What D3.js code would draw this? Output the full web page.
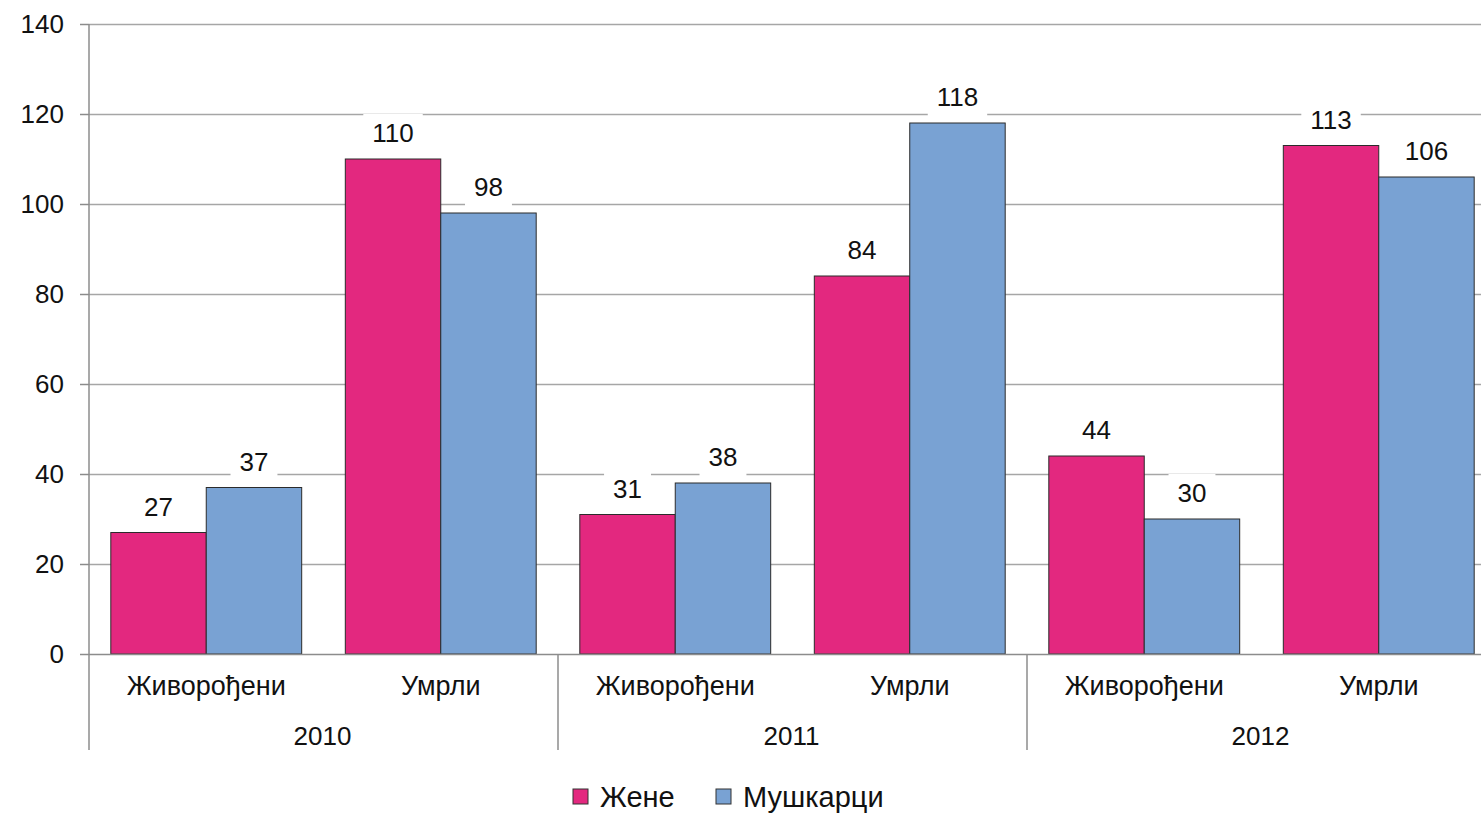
<!DOCTYPE html>
<html>
<head>
<meta charset="utf-8">
<script src="https://cdn.jsdelivr.net/npm/d3@7"></script>
<style>
  body { margin: 0; background: #fff; }
  svg { font-family: "Liberation Sans", Arial, sans-serif; }
</style>
</head>
<body>
<svg id="chart" width="1481" height="820"></svg>
<script>
// data
const years = ["2010", "2011", "2012"];
const events = ["Живорођени", "Умрли"];
const series = ["Жене", "Мушкарци"];
const women = [27, 110, 31, 84, 44, 113];
const men = [37, 98, 38, 118, 30, 106];
const yTicks = [0, 20, 40, 60, 80, 100, 120, 140];
const colors = ["#E3287F", "#79A2D3"];

const svg = d3.select("#chart");
const m = { top: 24, left: 89, bottom: 166 };
const plotRight = 1496;
const height = 820 - m.top - m.bottom;

// categories = year x event
const cats = [];
years.forEach(y => events.forEach(e => cats.push({ year: y, event: e, key: y + "|" + e })));
cats.forEach((c, i) => { c.values = [women[i], men[i]]; });

const x0 = d3.scaleBand().domain(cats.map(c => c.key)).range([m.left, plotRight]).paddingInner(0.186).paddingOuter(0.093);
const x1 = d3.scaleBand().domain(series).range([0, x0.bandwidth()]);
const y = d3.scaleLinear().domain([0, 140]).range([m.top + height, m.top]);
const xYear = d3.scaleBand().domain(years).range([m.left, plotRight]);

// gridlines
svg.append("g").selectAll("line").data(yTicks.filter(t => t > 0)).join("line")
  .attr("x1", m.left).attr("x2", plotRight)
  .attr("y1", d => y(d) + 0.5).attr("y2", d => y(d) + 0.5)
  .attr("stroke", "#a6a6a6").attr("stroke-width", 1.3);

// bars
const g = svg.append("g").selectAll("g").data(cats).join("g")
  .attr("transform", d => `translate(${x0(d.key)},0)`);
g.selectAll("rect").data(d => d.values.map((v, i) => ({ v, s: series[i], i }))).join("rect")
  .attr("x", d => x1(d.s)).attr("width", x1.bandwidth())
  .attr("y", d => y(d.v)).attr("height", d => y(0) - y(d.v))
  .attr("fill", d => colors[d.i]).attr("stroke", "#2b2b2b").attr("stroke-width", 1);

// value labels with white boxes
const lab = g.selectAll("g.lab").data(d => d.values.map((v, i) => ({ v, s: series[i] }))).join("g").attr("class", "lab");
lab.each(function (d) {
  const el = d3.select(this);
  const cx = x1(d.s) + x1.bandwidth() / 2;
  const base = y(d.v) - 17;
  const t = el.append("text").attr("x", cx).attr("y", base)
    .attr("text-anchor", "middle").attr("font-size", 26).attr("fill", "#111").text(d.v);
  const w = t.node().getComputedTextLength();
  el.insert("rect", "text").attr("x", cx - w / 2 - 9).attr("width", w + 18)
    .attr("y", base - 28).attr("height", 38).attr("fill", "#fff");
});

// y axis
const axisColor = "#8c8c8c";
svg.append("line").attr("x1", m.left).attr("x2", m.left).attr("y1", m.top).attr("y2", 750)
  .attr("stroke", axisColor).attr("stroke-width", 1.5);
svg.append("g").selectAll("line").data(yTicks).join("line")
  .attr("x1", m.left - 9).attr("x2", m.left).attr("y1", d => y(d) + 0.5).attr("y2", d => y(d) + 0.5)
  .attr("stroke", axisColor).attr("stroke-width", 1.5);
svg.append("g").selectAll("text").data(yTicks).join("text")
  .attr("x", 64).attr("y", d => y(d) + 9).attr("text-anchor", "end")
  .attr("font-size", 26).attr("fill", "#111").text(d => d);

// x axis
svg.append("line").attr("x1", m.left).attr("x2", plotRight).attr("y1", y(0) + 0.5).attr("y2", y(0) + 0.5)
  .attr("stroke", axisColor).attr("stroke-width", 1.5);
svg.append("g").selectAll("line").data(years.slice(1)).join("line")
  .attr("x1", d => xYear(d)).attr("x2", d => xYear(d)).attr("y1", y(0)).attr("y2", 750)
  .attr("stroke", axisColor).attr("stroke-width", 1.5);
svg.append("g").selectAll("text").data(cats).join("text")
  .attr("x", d => x0(d.key) + x0.bandwidth() / 2).attr("y", 695)
  .attr("text-anchor", "middle").attr("font-size", 27).attr("fill", "#111").text(d => d.event);
svg.append("g").selectAll("text").data(years).join("text")
  .attr("x", d => xYear(d) + xYear.bandwidth() / 2 - 1).attr("y", 745)
  .attr("text-anchor", "middle").attr("font-size", 26).attr("fill", "#111").text(d => d);

// legend
const legX = [573, 716];
const leg = svg.append("g").selectAll("g").data(series).join("g")
  .attr("transform", (d, i) => `translate(${legX[i]},789)`);
leg.append("rect").attr("width", 15).attr("height", 15)
  .attr("fill", (d, i) => colors[i]).attr("stroke", "#333").attr("stroke-width", 1);
leg.append("text").attr("x", 27).attr("y", 18).attr("font-size", 29).attr("fill", "#111").text(d => d);
</script>
</body>
</html>
